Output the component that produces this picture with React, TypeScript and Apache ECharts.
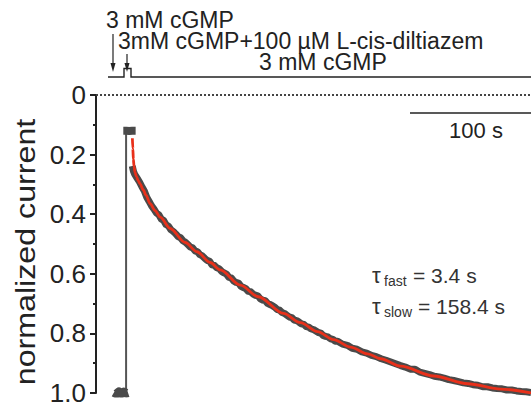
import React, { useEffect, useRef } from "react";
import * as echarts from "echarts";

// time axis in seconds (no visible axis), y = normalized current (inverted)
const baseTime = [14.9, 17, 19, 21, 23, 25, 26.5];
const baseValue = [0.998, 1.003, 0.996, 1.002, 0.997, 1.001, 0.999];

const jumpTime = [24.9, 24.9];
const jumpValue = [1.0, 0.121];

const peakTime = [22.6, 25, 27.5, 30, 32.8];
const peakValue = [0.12, 0.12, 0.121, 0.12, 0.12];

const traceTime = [
  30, 31, 32, 34, 36, 38, 40, 42, 44, 46, 48, 50, 52, 54, 56, 58, 60, 62, 64, 66, 68, 70,
  72, 74, 76, 78, 80, 82, 84, 86, 88, 90, 92, 94, 96, 98, 100, 102, 104, 106, 108, 110,
  112, 114, 116, 118, 120, 122, 124, 126, 128, 130, 132, 134, 136, 138, 140, 142, 144,
  146, 148, 150, 152, 154, 156, 158, 160, 162, 164, 166, 168, 170, 172, 174, 176, 178,
  180, 182, 184, 186, 188, 190, 192, 194, 196, 198, 200, 204, 208, 212, 216, 220, 224,
  228, 232, 236, 240, 244, 248, 252, 256, 260, 264, 268, 272, 276, 280, 284, 288, 292,
  296, 300, 304, 308, 312, 316, 320, 324, 328, 332, 336, 340, 344, 348, 352, 356, 360,
];
const traceValue = [
  0.238, 0.256, 0.266, 0.279, 0.292, 0.308, 0.322, 0.343, 0.357, 0.372, 0.383, 0.396,
  0.402, 0.416, 0.421, 0.435, 0.44, 0.452, 0.458, 0.466, 0.475, 0.479, 0.489, 0.494,
  0.502, 0.51, 0.513, 0.523, 0.526, 0.536, 0.54, 0.548, 0.555, 0.558, 0.57, 0.572, 0.58,
  0.583, 0.592, 0.597, 0.601, 0.612, 0.614, 0.624, 0.629, 0.631, 0.642, 0.646, 0.65,
  0.659, 0.66, 0.668, 0.672, 0.674, 0.684, 0.688, 0.69, 0.699, 0.703, 0.707, 0.712, 0.72,
  0.722, 0.73, 0.733, 0.739, 0.745, 0.747, 0.755, 0.757, 0.762, 0.768, 0.77, 0.777,
  0.779, 0.785, 0.787, 0.792, 0.797, 0.799, 0.807, 0.81, 0.812, 0.818, 0.82, 0.826,
  0.826, 0.836, 0.84, 0.85, 0.853, 0.862, 0.866, 0.874, 0.878, 0.885, 0.89, 0.896,
  0.902, 0.908, 0.913, 0.92, 0.92, 0.93, 0.934, 0.938, 0.944, 0.946, 0.95, 0.955, 0.958,
  0.962, 0.966, 0.968, 0.972, 0.974, 0.979, 0.979, 0.983, 0.985, 0.986, 0.99, 0.99,
  0.993, 0.995, 0.996, 0.998,
];

const fitTime = [
  30.1, 30.5, 30.9, 31.5, 32.3, 33.6, 34.8, 36.5, 39.0, 41.5, 44.8, 48.9, 53.1, 61.4,
  73.8, 83.5, 94.5, 102.8, 119.4, 134.4, 155.1, 169.2, 183.3, 196.6, 210.7, 224.8, 235.6,
  252.2, 279.5, 307.7, 335.1, 360.8,
];
const fitValue = [
  0.145, 0.18, 0.215, 0.24, 0.26, 0.275, 0.287, 0.298, 0.318, 0.337, 0.365, 0.388, 0.41,
  0.448, 0.495, 0.526, 0.562, 0.587, 0.638, 0.677, 0.733, 0.764, 0.794, 0.821, 0.846,
  0.869, 0.885, 0.91, 0.943, 0.969, 0.987, 1.0,
];

const yTickLabels = ["0", "0.2", "0.4", "0.6", "0.8", "1.0"];

const FONT = "'Liberation Sans', Arial, Helvetica, sans-serif";
const TRACE = "#4a4a4a";
const FIT = "#e8301a";
const INK = "#222222";

const zip = (t: number[], v: number[]) => t.map((x, i) => [x, v[i]]);

export default function App() {
  const ref = useRef<HTMLDivElement>(null);

  useEffect(() => {
    if (!ref.current) return;
    const chart = echarts.init(ref.current, undefined, { renderer: "svg" });

    const thick = (name: string, t: number[], v: number[], w: number) => ({
      name,
      type: "line",
      data: zip(t, v),
      showSymbol: false,
      symbol: "none",
      lineStyle: { color: TRACE, width: w, cap: "butt", join: "round" },
      z: 2,
    });

    chart.setOption({
      animation: false,
      backgroundColor: "#ffffff",
      grid: { left: 96, right: 0, top: 95, bottom: 17, containLabel: false },
      xAxis: {
        type: "value",
        min: 0,
        max: 360,
        show: false,
      },
      yAxis: {
        type: "value",
        inverse: true,
        min: 0,
        max: 1,
        interval: 0.2,
        axisLine: { show: true, lineStyle: { color: INK, width: 2 } },
        axisTick: { show: true, length: 6, lineStyle: { color: INK, width: 2 } },
        minorTick: { show: true, splitNumber: 2, length: 3, lineStyle: { color: INK, width: 2 } },
        splitLine: { show: false },
        axisLabel: {
          margin: 10,
          fontSize: 26,
          fontFamily: FONT,
          color: INK,
          formatter: (v: number) => yTickLabels[Math.round(v / 0.2)] ?? "",
        },
      },
      series: [
        thick("baseline", baseTime, baseValue, 9),
        {
          name: "jump",
          type: "line",
          data: zip(jumpTime, jumpValue),
          symbol: "none",
          lineStyle: { color: "#555555", width: 2 },
          z: 1,
        },
        thick("peak", peakTime, peakValue, 8),
        thick("trace", traceTime, traceValue, 7),
        {
          name: "fit",
          type: "line",
          data: zip(fitTime, fitValue),
          symbol: "none",
          smooth: 0.3,
          smoothMonotone: "x",
          lineStyle: { color: FIT, width: 2.8 },
          z: 3,
          markLine: {
            silent: true,
            symbol: "none",
            label: { show: false },
            lineStyle: { color: "#444444", width: 2, type: [2, 2] },
            data: [{ yAxis: 0 }],
          },
        },
      ],
      graphic: [
        {
          type: "text",
          x: 25,
          y: 252,
          rotation: Math.PI / 2,
          scaleX: 1.15,
          style: {
            text: "normalized current",
            fontSize: 28,
            fontFamily: FONT,
            fill: INK,
            align: "center",
            verticalAlign: "middle",
          },
        },
        {
          type: "text",
          x: 106,
          y: 19.5,
          style: { text: "3 mM cGMP", fontSize: 23, fontFamily: FONT, fill: INK, align: "left", verticalAlign: "middle" },
        },
        {
          type: "text",
          x: 118,
          y: 41,
          style: {
            text: "3mM cGMP+100 µM L-cis-diltiazem",
            fontSize: 23,
            fontFamily: FONT,
            fill: INK,
            align: "left",
            verticalAlign: "middle",
          },
        },
        {
          type: "text",
          x: 259,
          y: 62,
          style: { text: "3 mM cGMP", fontSize: 23, fontFamily: FONT, fill: INK, align: "left", verticalAlign: "middle" },
        },
        { type: "line", shape: { x1: 113, y1: 34, x2: 113, y2: 66 }, style: { stroke: INK, lineWidth: 1.2 } },
        { type: "polygon", shape: { points: [[110.5, 63], [115.5, 63], [113, 72]] }, style: { fill: INK } },
        { type: "line", shape: { x1: 127, y1: 54, x2: 127, y2: 66 }, style: { stroke: INK, lineWidth: 1.2 } },
        { type: "polygon", shape: { points: [[124.5, 63], [129.5, 63], [127, 72]] }, style: { fill: INK } },
        {
          type: "polyline",
          shape: { points: [[108, 77], [124, 77], [124, 68.5], [131, 68.5], [131, 77], [531, 77]] },
          style: { stroke: INK, lineWidth: 1.4, fill: "none" },
        },
        { type: "line", shape: { x1: 410, y1: 113, x2: 531, y2: 113 }, style: { stroke: INK, lineWidth: 1.5 } },
        {
          type: "text",
          x: 476,
          y: 130,
          style: { text: "100 s", fontSize: 22, fontFamily: FONT, fill: INK, align: "center", verticalAlign: "middle" },
        },
        {
          type: "text",
          x: 372,
          y: 275,
          style: { text: "τ", fontSize: 22, fontFamily: FONT, fill: "#333333", align: "left", verticalAlign: "middle" },
        },
        {
          type: "text",
          x: 384,
          y: 281,
          style: { text: "fast", fontSize: 14, fontFamily: FONT, fill: "#333333", align: "left", verticalAlign: "middle" },
        },
        {
          type: "text",
          x: 413,
          y: 275,
          style: { text: "= 3.4 s", fontSize: 21, fontFamily: FONT, fill: "#333333", align: "left", verticalAlign: "middle" },
        },
        {
          type: "text",
          x: 372,
          y: 306,
          style: { text: "τ", fontSize: 22, fontFamily: FONT, fill: "#333333", align: "left", verticalAlign: "middle" },
        },
        {
          type: "text",
          x: 384,
          y: 312,
          style: { text: "slow", fontSize: 14, fontFamily: FONT, fill: "#333333", align: "left", verticalAlign: "middle" },
        },
        {
          type: "text",
          x: 418,
          y: 306,
          style: { text: "= 158.4 s", fontSize: 21, fontFamily: FONT, fill: "#333333", align: "left", verticalAlign: "middle" },
        },
      ],
    });

    return () => chart.dispose();
  }, []);

  return <div ref={ref} style={{ width: 531, height: 410, position: "absolute", left: 0, top: 0 }} />;
}
